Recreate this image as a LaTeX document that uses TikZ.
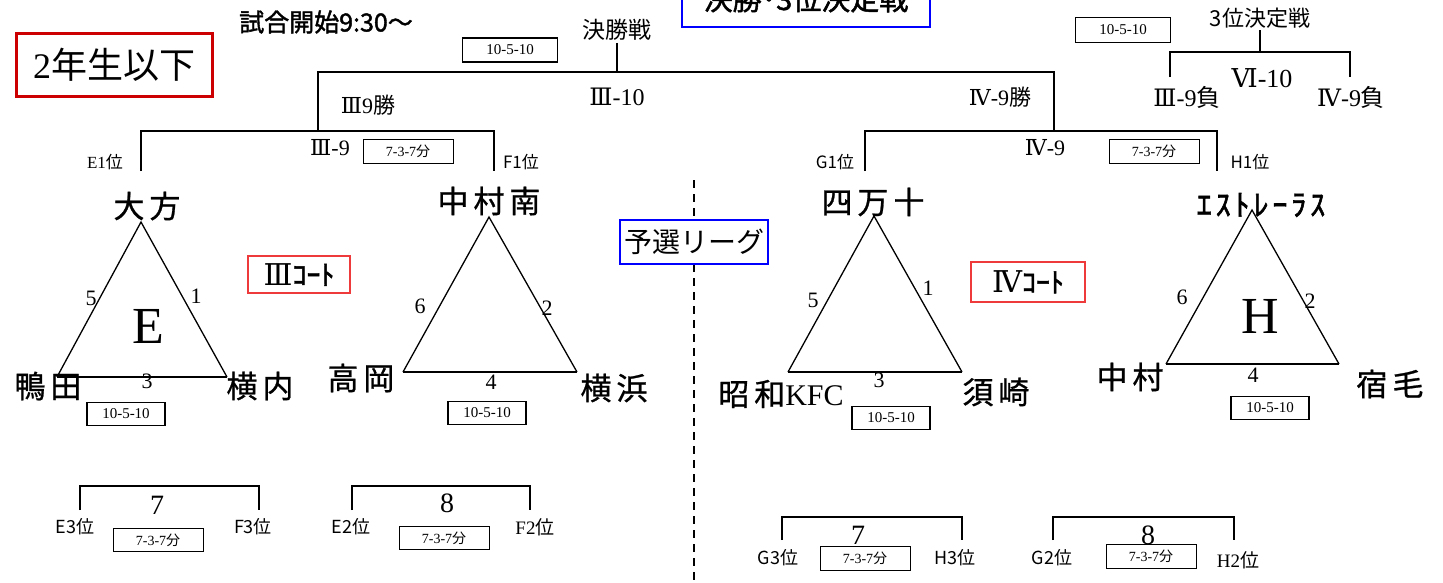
\documentclass[tikz,border=0pt]{standalone}
\usepackage{fontspec}
\setmainfont{Liberation Serif}
\newfontfamily\jp{Noto Sans CJK JP}
\newfontfamily\jpb[FakeBold=1.6]{Noto Sans CJK JP}
\newfontfamily\jpn[LetterSpace=16,FakeBold=0.8]{Noto Sans CJK JP}
\newfontfamily\jpk[LetterSpace=13,FakeBold=2]{Noto Sans CJK JP}
\newfontfamily\rom{DejaVu Serif}
\newcommand{\fsz}[1]{\fontsize{#1}{#1}\selectfont}
\usetikzlibrary{positioning}
\definecolor{titlered}{RGB}{204,0,0}
\definecolor{courtred}{RGB}{238,58,58}
\tikzstyle{team}=[inner sep=0pt,font=\jpn\fsz{31}]
\tikzstyle{label}=[inner sep=0pt]
\tikzstyle{seat}=[inner sep=0pt,font=\fsz{17}]
\tikzstyle{gamebox}=[draw,line width=1.4pt,inner sep=0pt,minimum width=78pt,minimum height=23pt,font=\fsz{15}]
\tikzstyle{timebox}=[draw,line width=0.9pt,inner sep=0pt,minimum width=90pt,minimum height=24pt,font=\fsz{14}]
\tikzstyle{courtbox}=[draw=courtred,line width=1.5pt,inner sep=0pt,font=\jpb\fsz{28}]
\tikzstyle{bracket}=[line width=2pt]
\tikzstyle{tri}=[line width=1.3pt,line join=miter]

\begin{document}
\begin{tikzpicture}[x=1pt,y=-1pt]
\useasboundingbox (0,0) rectangle (1443,582);

\node[draw=blue,line width=2.5pt,minimum width=248pt,minimum height=47pt,inner sep=0pt] (topbox) at (806,3.5) {};
\node[label,font=\jpb\fsz{29}] (toptitle) at (806,-1) {決勝･3位決定戦};
\node[draw=titlered,line width=3pt,minimum width=196pt,minimum height=63pt,inner sep=0pt,font=\jp\fsz{36}] (grade) at (114,64.5) {{\rmfamily 2}年生以下};
\node[label,font=\jpb\fsz{25}] (start) at (326,22) {試合開始9:30～};

% final
\node[label,font=\jp\fsz{23}] (final) at (617,30) {決勝戦};
\node[gamebox,minimum width=95pt,minimum height=24pt] (finalbox) at (510,50) {10-5-10};
\coordinate (finjoin) at (617,72);
\coordinate (sf3) at (318,131);
\coordinate (sf4) at (1054,131);
\draw[bracket,line width=1.6pt] (final.south) ++(0,2) -- (finjoin);
\draw[bracket] (sf3) -- ++(0,-59) -| (sf4);
\node[label,font=\fsz{24}] (final10) at (617,97) {{\rom Ⅲ}-10};
\node[label,font=\fsz{22}] (win3) at (368,105) {{\rom Ⅲ}9{\jp 勝}};
\node[label,font=\fsz{22}] (win4) at (1000,97) {{\rom Ⅳ}-9{\jp 勝}};

% semi finals
\coordinate (e1) at (141,171);
\coordinate (f1) at (494,171);
\coordinate (g1) at (865,171);
\coordinate (h1) at (1217,171);
\draw[bracket] (e1) -- ++(0,-40) -| (f1);
\draw[bracket] (g1) -- ++(0,-40) -| (h1);
\node[seat] (e1lab) at (105,162) {E1{\jp 位}};
\node[seat,font=\jp\fsz{17}] (f1lab) at (521,162) {F1位};
\node[seat,font=\jp\fsz{17}] (g1lab) at (835,162) {G1位};
\node[seat,font=\jp\fsz{17}] (h1lab) at (1250,162) {H1位};
\node[label,font=\fsz{22}] (semi3) at (330,148) {{\rom Ⅲ}-9};
\node[label,font=\fsz{22}] (semi4) at (1045,148) {{\rom Ⅳ}-9};
\node[timebox] (semi3box) at (408,151) {7-3-7{\jp 分}};
\node[timebox] (semi4box) at (1154,151) {7-3-7{\jp 分}};

% third place
\node[label,font=\jp\fsz{22}] (third) at (1260,18) {3位決定戦};
\node[gamebox,minimum width=95pt,minimum height=25pt] (thirdbox) at (1123,30) {10-5-10};
\coordinate (thirdjoin) at (1260,52);
\coordinate (lose3) at (1170,77);
\coordinate (lose4) at (1350,77);
\draw[bracket,line width=1.6pt] (third.south) ++(0,2) -- (thirdjoin);
\draw[bracket] (lose3) -- ++(0,-25) -| (lose4);
\node[label,font=\fsz{24}] (lose3lab) at (1187,97) {{\rom Ⅲ}-9{\jp 負}};
\node[label,font=\fsz{26}] (third10) at (1262,78) {{\rom Ⅵ}-10};
\node[label,font=\fsz{24}] (lose4lab) at (1351,97) {{\rom Ⅳ}-9{\jp 負}};

% league divider
\coordinate (divtop) at (694,180);
\coordinate (divbot) at (694,582);
\draw[line width=2.5pt,dash pattern=on 8pt off 6pt] (divtop) -- (divbot);
\node[draw=blue,fill=white,line width=2.5pt,minimum width=148pt,minimum height=44pt,inner sep=0pt,font=\jp\fsz{28}] (league) at (694,242) {予選リーグ};
\node[courtbox,minimum width=102pt,minimum height=37pt] (court3) at (299,274.5) {{\rom\fsz{30}Ⅲ}ｺｰﾄ};
\node[courtbox,minimum width=114pt,minimum height=40pt] (court4) at (1028,282) {{\rom\fsz{30}Ⅳ}ｺｰﾄ};

% group E
\coordinate (eA) at (141,222);
\coordinate (eL) at (57,377);
\coordinate (eR) at (227,377);
\draw[tri] (eL) -- (eA) -- (eR);
\draw[line width=2.5pt] (eL) -- (eR);
\node[team] (oogata) at (147,206) {大方};
\node[team] (kamoda) at (48,386) {鴨田};
\node[team] (yokouchi) at (260,386) {横内};
\node[label,font=\fsz{22}] (e5) at (91,298) {5};
\node[label,font=\fsz{22}] (e1n) at (196,296) {1};
\node[label,font=\fsz{22}] (e3) at (147,381) {3};
\node[label,font=\fsz{52}] (eG) at (148,326) {E};
\node[gamebox] (ebox) at (126,414) {10-5-10};

% group F
\coordinate (fA) at (489,217);
\coordinate (fL) at (403,372);
\coordinate (fR) at (577,372);
\draw[tri] (fL) -- (fA) -- (fR);
\draw[line width=2.2pt] (fL) -- (fR);
\node[team] (nakamuraminami) at (489,201) {中村南};
\node[team] (takaoka) at (361,378) {高岡};
\node[team] (yokohama) at (614,388) {横浜};
\node[label,font=\fsz{22}] (f6) at (420,306) {6};
\node[label,font=\fsz{22}] (f2) at (547,308) {2};
\node[label,font=\fsz{22}] (f4) at (491,382) {4};
\node[gamebox] (fbox) at (487,413) {10-5-10};

% group G
\coordinate (gA) at (874,216);
\coordinate (gL) at (788,372);
\coordinate (gR) at (962,372);
\draw[tri] (gL) -- (gA) -- (gR);
\draw[line width=2.2pt] (gL) -- (gR);
\node[team] (shimanto) at (873,202) {四万十};
\node[team,font=\fsz{30}] (showa) at (781,394) {{\jpn\fsz{31}昭和}KFC};
\node[team] (susaki) at (996,392) {須崎};
\node[label,font=\fsz{22}] (g5) at (813,300) {5};
\node[label,font=\fsz{22}] (g1n) at (928,288) {1};
\node[label,font=\fsz{22}] (g3) at (879,380) {3};
\node[gamebox] (gbox) at (891,418) {10-5-10};

% group H
\coordinate (hA) at (1252,210);
\coordinate (hL) at (1166,364);
\coordinate (hR) at (1339,364);
\draw[tri] (hL) -- (hA) -- (hR);
\draw[line width=2.2pt] (hL) -- (hR);
\node[team,font=\jpk\fsz{30}] (estrellas) at (1261,205) {ｴｽﾄﾚｰﾗｽ};
\node[team] (nakamura) at (1130,377) {中村};
\node[team] (sukumo) at (1390,384) {宿毛};
\node[label,font=\fsz{22}] (h6) at (1182,297) {6};
\node[label,font=\fsz{22}] (h2) at (1310,301) {2};
\node[label,font=\fsz{22}] (h4) at (1253,375) {4};
\node[label,font=\fsz{52}] (hG) at (1260,316) {H};
\node[gamebox] (hbox) at (1270,408) {10-5-10};

% placement games
\coordinate (e3) at (80,510);
\coordinate (f3) at (259,510);
\coordinate (e2) at (352,510);
\coordinate (f2) at (530,510);
\coordinate (g3) at (782,540);
\coordinate (h3) at (962,540);
\coordinate (g2) at (1053,540);
\coordinate (h2) at (1234,540);
\draw[bracket] (e3) -- ++(0,-24) -| (f3);
\draw[bracket] (e2) -- ++(0,-24) -| (f2);
\draw[bracket] (g3) -- ++(0,-23) -| (h3);
\draw[bracket] (g2) -- ++(0,-23) -| (h2);
\node[label,font=\fsz{28}] (game7) at (157,505) {7};
\node[label,font=\fsz{28}] (game8) at (447,503) {8};
\node[label,font=\fsz{28}] (game7r) at (858,535) {7};
\node[label,font=\fsz{28}] (game8r) at (1148,535) {8};
\node[seat,font=\jp\fsz{18}] (e3lab) at (75,527) {E3位};
\node[seat,font=\jp\fsz{18}] (f3lab) at (253,527) {F3位};
\node[seat,font=\jp\fsz{18}] (e2lab) at (351,527) {E2位};
\node[seat,font=\fsz{19}] (f2lab) at (535,527) {F2{\jp 位}};
\node[seat,font=\jp\fsz{18}] (g3lab) at (778,558) {G3位};
\node[seat,font=\jp\fsz{18}] (h3lab) at (955,558) {H3位};
\node[seat,font=\jp\fsz{18}] (g2lab) at (1052,558) {G2位};
\node[seat,font=\fsz{19}] (h2lab) at (1238,560) {H2{\jp 位}};
\node[timebox,minimum height=23pt] (box7) at (158,540) {7-3-7{\jp 分}};
\node[timebox,minimum height=23pt] (box8) at (444,538) {7-3-7{\jp 分}};
\node[timebox] (box7r) at (865,558) {7-3-7{\jp 分}};
\node[timebox] (box8r) at (1151,556) {7-3-7{\jp 分}};
\end{tikzpicture}
\end{document}
